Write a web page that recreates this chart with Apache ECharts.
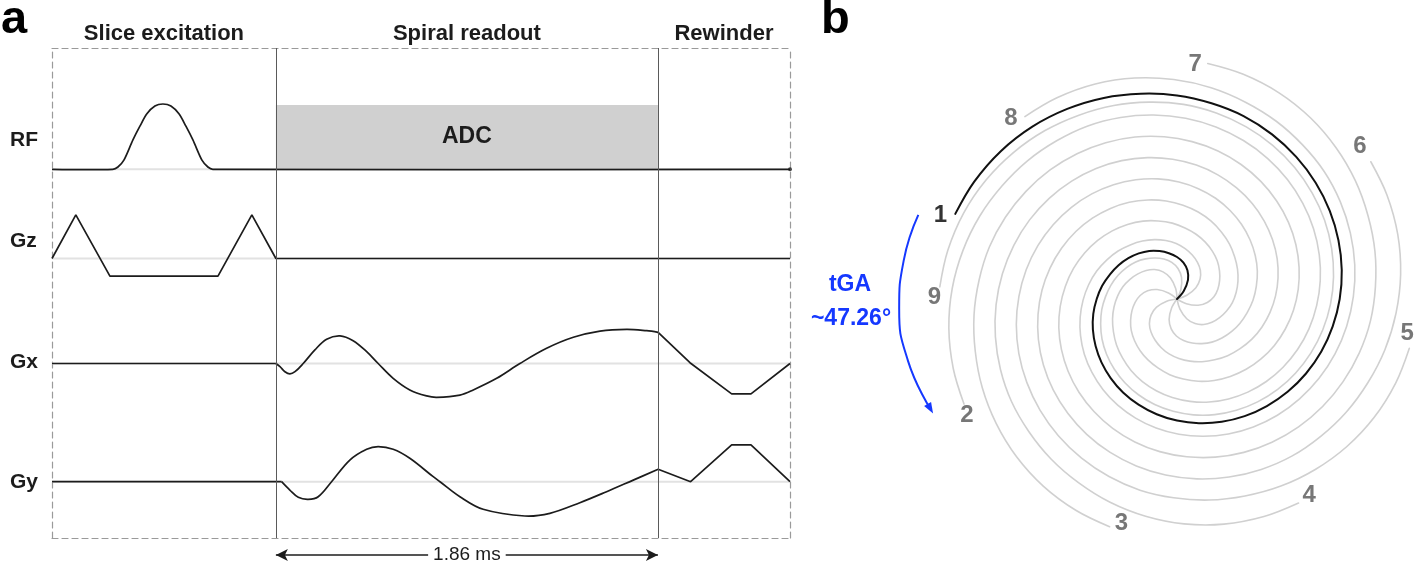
<!DOCTYPE html>
<html>
<head>
<meta charset="utf-8">
<script src="https://cdn.jsdelivr.net/npm/echarts@6/dist/echarts.min.js"></script>
<style>html,body{margin:0;padding:0;background:#fff}#c{width:1418px;height:566px}</style>
</head>
<body>
<div id="c"></div>
<script>
// ---------------- Panel a : pulse sequence (time in ms, amplitude in arbitrary units) ----------------
const panelLetters = ['a', 'b'];
const phaseNames = ['Slice excitation', 'Spiral readout', 'Rewinder'];
const phaseEdges = [-1.09, 0, 1.86, 2.503];
const channelNames = ['RF', 'Gz', 'Gx', 'Gy'];
const readoutDuration = 1.86;
const readoutLabel = '1.86 ms';
const adcLabel = 'ADC';
const adcLevel = 0.985;

const rfPulse = [[-1.09,0],[-0.794,0],[-0.769,0.035],[-0.740,0.14],[-0.696,0.45],[-0.662,0.66],[-0.628,0.85],
  [-0.589,0.97],[-0.550,1],[-0.511,0.97],[-0.472,0.85],[-0.438,0.66],[-0.404,0.45],[-0.360,0.14],
  [-0.331,0.035],[-0.307,0],[2.503,0]];
const gzWave = [[-1.09,0],[-0.974,1.09],[-0.808,-0.44],[-0.282,-0.44],[-0.117,1.09],[0,0],[2.503,0]];
const gxPre = [[-1.09,0],[0,0]];
const gxReadout = [[0,0],[0.020,-0.08],[0.044,-0.205],[0.068,-0.26],[0.093,-0.205],[0.133,0],[0.190,0.34],
  [0.247,0.605],[0.312,0.69],[0.376,0.57],[0.442,0.295],[0.498,0],[0.571,-0.37],[0.652,-0.66],[0.734,-0.81],
  [0.783,-0.845],[0.896,-0.79],[0.961,-0.66],[1.075,-0.37],[1.188,0],[1.318,0.38],[1.448,0.655],[1.578,0.81],
  [1.708,0.855],[1.805,0.82],[1.861,0.78]];
const gxRewinder = [[1.861,0.78],[2.016,0.02],[2.219,-0.76],[2.313,-0.76],[2.503,0]];
const gyPre = [[-1.09,0],[0.028,0]];
const gyReadout = [[0.028,0],[0.068,-0.21],[0.109,-0.39],[0.157,-0.44],[0.206,-0.375],[0.271,0],[0.360,0.54],
  [0.442,0.81],[0.498,0.875],[0.571,0.81],[0.652,0.585],[0.766,0.125],[0.799,0],[0.896,-0.375],[1.009,-0.69],
  [1.212,-0.8575],[1.334,-0.79],[1.480,-0.525],[1.610,-0.25],[1.740,0.04],[1.861,0.31]];
const gyRewinder = [[1.861,0.31],[2.019,0],[2.219,0.92],[2.313,0.92],[2.503,0]];

// ---------------- Panel b : tiny-golden-angle spiral interleaves ----------------
const tinyGoldenAngle = 47.26;          // degrees between successive interleaves
const armLabels = ['1','2','3','4','5','6','7','8','9'];
const tgaText = ['tGA', '~47.26°'];
// first (black) interleave, read as [radius, angle in degrees]
const firstArm = [[0,40],[10.5,50],[22,60],[30.5,70],[37,80],[42,90],[46.5,100],[51,110],[55.5,120],[59.5,130],
  [63.5,140],[67.5,150],[71.5,160],[76,170],[80.3,180],[85,190],[89.5,200],[94,210],[98.6,220],[103.2,230],
  [107.9,240],[112.4,250],[117,260],[121.6,270],[126.1,280],[130.7,290],[135.3,300],[139.8,310],[144.4,320],
  [149,330],[153.6,340],[158.1,350],[162.7,360],[167.3,370],[171.8,380],[176.4,390],[181,400],[185.5,410],
  [190.1,420],[194.7,430],[198.8,440],[203.6,450],[208.4,460],[214,470],[219.5,480],[225,490],[230,500],
  [234.3,510],[237.5,519]];
// where each interleave number sits, read as [radius, angle in degrees]
const armLabelAt = [[251,160.5],[240,208.9],[231,256.1],[236.5,304],[232.8,351.5],[238,39.8],[235.7,85.6],
  [245.4,132.6],[242.6,179.5]];
const tgaArc = [[272,162],[276,172],[278,182],[276,193],[270,204]];

// ---------------- build chart ----------------
const FONT = '"Liberation Sans", "Helvetica Neue", Arial, sans-serif';
const INK = '#1c1c1c';
const BLUE = '#1538ff';
const GRID_L = 52, GRID_W = 738;
const frameDash = {color:'#9a9a9a', width:1.2, type:[6,4]};
const hidden = {show:false};

const grids = [
  {left:GRID_L, width:GRID_W, top:48, height:490},      // frame
  {left:GRID_L, width:GRID_W, top:104, height:65.3},    // RF
  {left:GRID_L, width:GRID_W, top:210.5, height:96},    // Gz
  {left:GRID_L, width:GRID_W, top:315.5, height:96},    // Gx
  {left:GRID_L, width:GRID_W, top:433.7, height:96},    // Gy
  {left:GRID_L, width:GRID_W, top:548, height:14}       // duration arrow
].map(g => Object.assign({outerBoundsMode:'none', containLabel:false}, g));

const xMin = phaseEdges[0], xMax = phaseEdges[phaseEdges.length-1];
function xAx(gi, extra) {
  return Object.assign({type:'value', gridIndex:gi, min:xMin, max:xMax, axisTick:hidden, axisLabel:hidden,
    splitLine:hidden, axisLine:{show:false, onZero:false}}, extra||{});
}
function yAx(gi, min, max, extra) {
  return Object.assign({type:'value', gridIndex:gi, min:min, max:max, axisTick:hidden, axisLabel:hidden,
    splitLine:hidden, axisLine:{show:false, onZero:false}}, extra||{});
}
const xAxes = [
  xAx(0, {position:'top', axisLine:{show:true, onZero:false, lineStyle:frameDash}}),
  xAx(0, {position:'bottom', axisLine:{show:true, onZero:false, lineStyle:frameDash}}),
  xAx(1), xAx(2), xAx(3), xAx(4), xAx(5)
];
const yAxes = [
  yAx(0, 0, 1, {position:'left', axisLine:{show:true, onZero:false, lineStyle:frameDash}}),
  yAx(0, 0, 1, {position:'right', axisLine:{show:true, onZero:false, lineStyle:frameDash}}),
  yAx(1, 0, 1), yAx(2, -1.2, 1.2), yAx(3, -1.2, 1.2), yAx(4, -1.2, 1.2), yAx(5, -1, 1)
];

const series = [];
// phase headers + separators
series.push({
  type:'line', xAxisIndex:0, yAxisIndex:0, data:[], silent:true, symbol:'none',
  markLine:{silent:true, symbol:'none', label:{show:false}, lineStyle:{color:'#5a5a5a', width:1, type:'solid'},
    data:[{xAxis:phaseEdges[1]},{xAxis:phaseEdges[2]}]},
  markArea:{silent:true, itemStyle:{color:'rgba(0,0,0,0)'},
    label:{show:true, position:'top', distance:3, color:INK, fontFamily:FONT, fontWeight:'bold', fontSize:22},
    data:phaseNames.map((n,i)=>[{name:n, xAxis:phaseEdges[i]},{xAxis:phaseEdges[i+1]}])}
});
// ADC box
series.push({
  type:'line', xAxisIndex:2, yAxisIndex:2, data:[], silent:true, symbol:'none', z:0,
  markArea:{silent:true, itemStyle:{color:'#d0d0d0'},
    label:{show:true, position:'inside', color:INK, fontFamily:FONT, fontWeight:'bold', fontSize:23},
    data:[[{name:adcLabel, xAxis:0, yAxis:0},{xAxis:readoutDuration, yAxis:adcLevel}]]}
});
// light baselines
for (let c = 0; c < 4; c++) {
  series.push({type:'line', xAxisIndex:2+c, yAxisIndex:2+c, data:[[xMin,0],[xMax,0]], symbol:'none', silent:true,
    z:1, clip:false, lineStyle:{color:'#e2e2e2', width:2}});
}
// straight segments
const wave = (ax, data) => ({type:'line', xAxisIndex:ax, yAxisIndex:ax, data:data,
  symbol:'none', clip:false, silent:true, z:3, lineStyle:{color:INK, width:1.7}});
// smooth waveforms: one smooth path through the read points, placed with the axes' scales
const smoothWave = (ax, data, s) => ({type:'custom', coordinateSystem:'cartesian2d', xAxisIndex:ax, yAxisIndex:ax,
  data:data, silent:true, z:3,
  renderItem:(params, api) => params.dataIndex !== 0 ? null : {type:'polyline',
    shape:{points:data.map(p => api.coord(p)), smooth:s},
    style:{stroke:INK, lineWidth:1.7, fill:null, lineJoin:'round'}}
});
series.push(smoothWave(2, rfPulse, 0.3));
series.push({type:'scatter', xAxisIndex:2, yAxisIndex:2, data:[rfPulse[rfPulse.length-1]], symbolSize:4,
  silent:true, z:3, clip:false, itemStyle:{color:INK}});
series.push(wave(3, gzWave));
series.push(wave(4, gxPre));
series.push(smoothWave(4, gxReadout, 0.35));
series.push(wave(4, gxRewinder));
series.push(wave(5, gyPre));
series.push(smoothWave(5, gyReadout, 0.35));
series.push(wave(5, gyRewinder));
// readout duration arrow
series.push({
  type:'line', xAxisIndex:6, yAxisIndex:6, data:[], silent:true, symbol:'none',
  markLine:{silent:true, symbol:['arrow','arrow'], symbolSize:[9,12],
    lineStyle:{color:INK, width:1.5, type:'solid'},
    label:{show:true, position:'middle', distance:0, verticalAlign:'middle', formatter:readoutLabel, color:INK,
      fontFamily:FONT, fontSize:19, backgroundColor:'#fff', padding:[1,5]},
    data:[[{coord:[0,0]},{coord:[readoutDuration,0]}]]}
});

// spiral interleaves: each arm is the first arm turned by k * tiny golden angle,
// drawn as a smooth path through the polar scale of the chart
const armEnd = firstArm[firstArm.length-1];
const armRender = (color, width, offset) => (params, api) => {
  const k = params.dataIndex + offset;
  const pts = firstArm.map(([r,a]) => api.coord([r, (a + k*tinyGoldenAngle) % 360]));
  return {type:'polyline', shape:{points:pts, smooth:0.35},
    style:{stroke:color, lineWidth:width, fill:null, lineJoin:'round', lineCap:'round'}};
};
series.push({type:'custom', coordinateSystem:'polar', polarIndex:0, silent:true, z:2,
  data:armLabels.slice(1).map((t,i)=>[armEnd[0], (armEnd[1] + (i+1)*tinyGoldenAngle) % 360]),
  renderItem:armRender('#d0d0d0', 1.6, 1)});
series.push({type:'custom', coordinateSystem:'polar', polarIndex:0, silent:true, z:4,
  data:[[armEnd[0], armEnd[1] % 360]],
  renderItem:armRender('#111', 2, 0)});
// interleave numbers
series.push({type:'scatter', coordinateSystem:'polar', polarIndex:0, silent:true, z:5, symbolSize:1,
  itemStyle:{color:'rgba(0,0,0,0)'},
  data:armLabels.map((t,k)=>({value:armLabelAt[k], name:t,
    label:{color: k===0 ? '#000' : '#555'}})),
  label:{show:true, position:'inside', formatter:p=>p.name, fontFamily:FONT, fontSize:24, fontWeight:'bold'}
});
// tGA arrow
series.push({type:'line', coordinateSystem:'polar', polarIndex:0, silent:true, z:5, smooth:0.5,
  showSymbol:true, symbol:'none', lineStyle:{color:BLUE, width:2}, itemStyle:{color:BLUE},
  data:tgaArc.map((p,i)=> i===tgaArc.length-1 ? {value:p, symbol:'triangle', symbolSize:[8,11], symbolRotate:210} : p)
});

const option = {
  animation:false,
  backgroundColor:'#fff',
  grid:grids,
  xAxis:xAxes,
  yAxis:yAxes,
  polar:{center:[1177,299], radius:300},
  radiusAxis:{type:'value', polarIndex:0, min:0, max:300, show:false},
  angleAxis:{type:'value', polarIndex:0, min:0, max:360, startAngle:0, clockwise:false, show:false},
  series:series,
  graphic:[
    {type:'text', x:1, y:20.5, style:{text:panelLetters[0], font:'bold 47px '+FONT, fill:'#000', textAlign:'left', textVerticalAlign:'middle'}},
    {type:'text', x:821, y:20.5, style:{text:panelLetters[1], font:'bold 47px '+FONT, fill:'#000', textAlign:'left', textVerticalAlign:'middle'}},
    ...channelNames.map((n,i)=>({type:'text', x:10, y:[140,241,362,482][i],
      style:{text:n, font:'bold 21px '+FONT, fill:INK, textAlign:'left', textVerticalAlign:'middle'}})),
    {type:'text', x:850, y:285, style:{text:tgaText[0], font:'bold 23px '+FONT, fill:BLUE, textAlign:'center', textVerticalAlign:'middle'}},
    {type:'text', x:851, y:319, style:{text:tgaText[1], font:'bold 23px '+FONT, fill:BLUE, textAlign:'center', textVerticalAlign:'middle'}}
  ]
};
const chart = echarts.init(document.getElementById('c'));
chart.setOption(option);
</script>
</body>
</html>
